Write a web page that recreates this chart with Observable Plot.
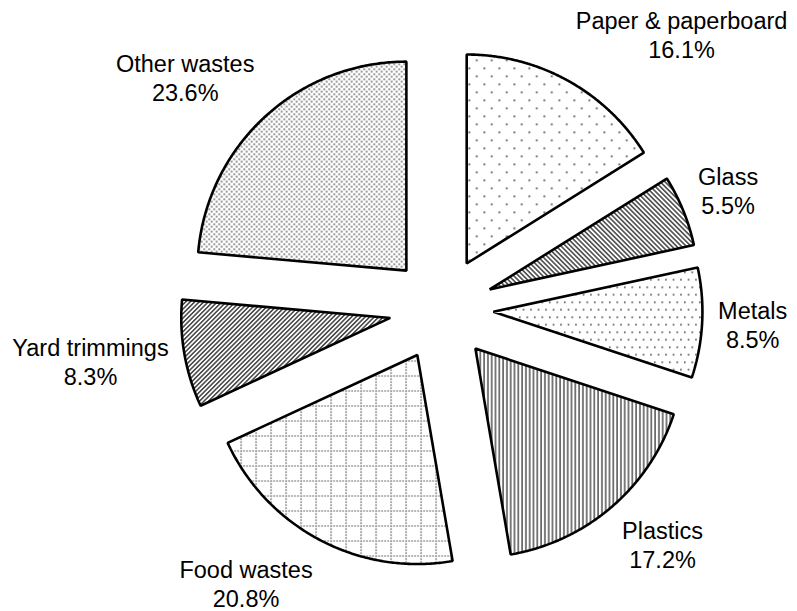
<!DOCTYPE html>
<html><head><meta charset="utf-8">
<script src="https://cdn.jsdelivr.net/npm/d3@7"></script>
<script src="https://cdn.jsdelivr.net/npm/@observablehq/plot@0.6"></script>
<style>html,body{margin:0;padding:0;background:#fff}</style>
</head><body><div id="chart"></div>
<script>
// ---- data ----
const categories = ["Paper & paperboard","Glass","Metals","Plastics","Food wastes","Yard trimmings","Other wastes"];
const shares = [16.1, 5.5, 8.5, 17.2, 20.8, 8.3, 23.6];
const patternIds = ["dotsSparse","hatchBack","dotsMedium","vlines","dotGrid","hatchFwd","dotsDense"];

// ---- layout ----
const W = 797, H = 611, CX = 441, CY = 308.5;
const R = 209, EXPLODE = 52, LABEL_RX = 277, LABEL_RY = 283, LABEL_DY = 1.5;
const FONT = 23.5, LINE = 1.23, FAMILY = "'Liberation Sans', Arial, Helvetica, sans-serif";

const total = d3.sum(shares);
let cum = 0;
const slices = shares.map((s, i) => {
  const a0 = 2 * Math.PI * cum / total;
  cum += s;
  const a1 = 2 * Math.PI * cum / total;
  return {i, name: categories[i], share: s, a0, a1, am: (a0 + a1) / 2};
});

function wedge(sl) {
  const ox = EXPLODE * Math.sin(sl.am), oy = EXPLODE * Math.cos(sl.am);
  const pts = [];
  const n = 80;
  for (let k = 0; k <= n; k++) { const a = sl.am + (sl.a1 - sl.am) * k / n; pts.push({x: ox + R * Math.sin(a), y: oy + R * Math.cos(a)}); }
  pts.push({x: ox, y: oy});
  for (let k = 0; k <= n; k++) { const a = sl.a0 + (sl.am - sl.a0) * k / n; pts.push({x: ox + R * Math.sin(a), y: oy + R * Math.cos(a)}); }
  return pts;
}

const ctx = document.createElement("canvas").getContext("2d");
ctx.font = `${FONT}px ${FAMILY}`;
const labelData = slices.map(sl => {
  const text = `${sl.name}\n${sl.share.toFixed(1)}%`;
  const w = d3.max(text.split("\n"), t => ctx.measureText(t).width);
  const h = 2 * LINE * FONT;
  const s = Math.sin(sl.am), c = Math.cos(sl.am);
  return {text, x: LABEL_RX * s + Math.sign(s) * w / 2, y: LABEL_RY * c + c * h / 2 + LABEL_DY};
});

const marks = slices.map(sl => Plot.line(wedge(sl), {
  x: "x", y: "y", curve: "linear",
  fill: `url(#${patternIds[sl.i]})`, stroke: "black", strokeWidth: 2.6, strokeLinejoin: "miter"
}));
marks.push(Plot.text(labelData, {x: "x", y: "y", text: "text", fontSize: FONT, lineHeight: LINE, fontFamily: FAMILY, fill: "black", textAnchor: "middle"}));

const chart = Plot.plot({
  width: W, height: H, margin: 0,
  x: {domain: [-CX, W - CX], axis: null},
  y: {domain: [-(H - CY), CY], axis: null},
  style: {background: "white", fontFamily: FAMILY},
  marks
});

const defs = document.createElementNS("http://www.w3.org/2000/svg", "defs");
defs.innerHTML = `
<pattern id="dotsSparse" width="15" height="16" patternUnits="userSpaceOnUse">
  <rect width="15" height="16" fill="white"/>
  <rect x="3" y="3" width="1.6" height="1.6" fill="#333"/>
  <rect x="10.5" y="11" width="1.6" height="1.6" fill="#333"/>
</pattern>
<pattern id="dotsMedium" width="7.5" height="15" patternUnits="userSpaceOnUse">
  <rect width="7.5" height="15" fill="white"/>
  <rect x="1" y="1" width="1.5" height="1.5" fill="#333"/>
  <rect x="4.75" y="8.5" width="1.5" height="1.5" fill="#333"/>
</pattern>
<pattern id="dotsDense" width="5" height="5" patternUnits="userSpaceOnUse">
  <rect width="5" height="5" fill="white"/>
  <rect x="0.5" y="0.5" width="1.4" height="1.4" fill="#333"/>
  <rect x="3" y="3" width="1.4" height="1.4" fill="#333"/>
</pattern>
<pattern id="hatchBack" width="3.4" height="10" patternUnits="userSpaceOnUse" patternTransform="rotate(-45)">
  <rect width="3.4" height="10" fill="white"/>
  <line x1="1.7" y1="0" x2="1.7" y2="10" stroke="#222" stroke-width="1.3"/>
</pattern>
<pattern id="hatchFwd" width="3.2" height="10" patternUnits="userSpaceOnUse" patternTransform="rotate(45)">
  <rect width="3.2" height="10" fill="white"/>
  <line x1="1.6" y1="0" x2="1.6" y2="10" stroke="#222" stroke-width="1.3"/>
</pattern>
<pattern id="vlines" width="3.8" height="10" patternUnits="userSpaceOnUse">
  <rect width="3.8" height="10" fill="white"/>
  <line x1="1" y1="0" x2="1" y2="10" stroke="#111" stroke-width="1.1"/>
</pattern>
<pattern id="dotGrid" width="15" height="15" patternUnits="userSpaceOnUse">
  <rect width="15" height="15" fill="white"/>
  <line x1="0" y1="0.5" x2="15" y2="0.5" stroke="#111" stroke-width="1.2" stroke-dasharray="1.2 1.8"/>
  <line x1="0.5" y1="0" x2="0.5" y2="15" stroke="#111" stroke-width="1.2" stroke-dasharray="1.2 1.8"/>
</pattern>`;
chart.insertBefore(defs, chart.firstChild);
document.getElementById("chart").appendChild(chart);
</script></body></html>
